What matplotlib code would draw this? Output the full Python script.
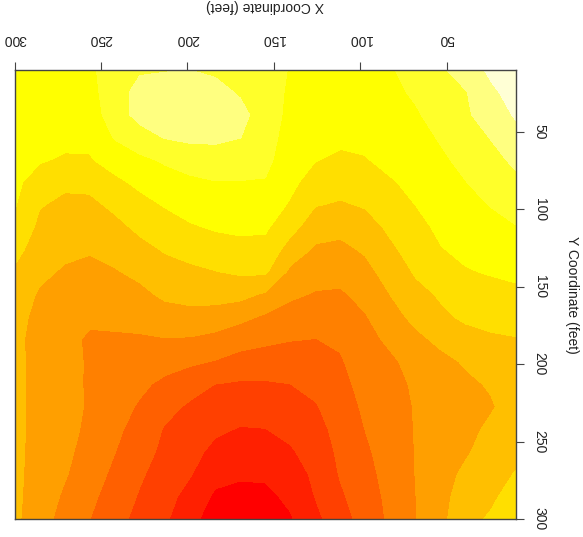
import matplotlib
matplotlib.use('Agg')
import matplotlib.pyplot as plt
import numpy as np

plt.rcParams['font.family'] = ['Liberation Sans', 'DejaVu Sans']

# grid positions in feet: columns run left->right as drawn (300 down to 10),
# rows run top->bottom (10 down to 300)
x_feet = [300, 285.5, 271, 256.5, 242, 227.5, 213, 198.5, 184, 169.5, 155,
          140.5, 126, 111.5, 97, 82.5, 68, 53.5, 39, 24.5, 10]
y_feet = [10, 24.5, 39, 53.5, 68, 82.5, 97, 111.5, 126, 140.5, 155,
          169.5, 184, 198.5, 213, 227.5, 242, 256.5, 271, 285.5, 300]

# surface, one list per column (top -> bottom),
# in colour-band units (0 = red ... 12 = palest yellow)
z_columns = [
    [8.6, 8.51, 8.42, 8.34, 8.25, 8.16, 8.07, 7.9, 7.34, 6.85, 6.5, 6.3, 6.2, 6.2, 6.2, 6.2, 6.2, 6.2, 6.2, 6.2, 6.2],
    [8.7, 8.54, 8.39, 8.23, 8.07, 7.67, 7.07, 6.75, 6.47, 6.18, 5.9, 5.75, 5.7, 5.74, 5.75, 5.75, 5.74, 5.71, 5.65, 5.57, 5.42],
    [8.8, 8.6, 8.4, 8.2, 7.91, 7.19, 6.78, 6.48, 6.18, 5.9, 5.65, 5.4, 5.2, 5.28, 5.32, 5.33, 5.29, 5.21, 5.09, 4.85, 4.63],
    [8.85, 8.65, 8.45, 8.22, 7.92, 7.25, 6.78, 6.43, 6.08, 5.75, 5.43, 5.12, 4.9, 4.9, 4.88, 4.89, 4.81, 4.65, 4.44, 4.22, 4.01],
    [9.4, 9.6, 9.55, 9.07, 8.42, 7.78, 7.2, 6.73, 6.32, 5.92, 5.59, 5.18, 4.9, 4.75, 4.6, 4.4, 4.2, 4.02, 3.8, 3.56, 3.33],
    [9.9, 10.3, 10.3, 9.6, 8.8, 8.22, 7.69, 7.2, 6.71, 6.22, 5.76, 5.31, 4.89, 4.54, 4.19, 3.89, 3.63, 3.38, 3.12, 2.91, 2.71],
    [9.95, 10.45, 10.5, 10.05, 9.13, 8.57, 8.07, 7.56, 7.08, 6.62, 6.17, 5.6, 4.95, 4.34, 3.78, 3.29, 2.92, 2.77, 2.58, 2.37, 2.16],
    [10.0, 10.5, 10.65, 10.2, 9.45, 8.79, 8.36, 7.9, 7.33, 6.79, 6.3, 5.69, 4.91, 4.16, 3.37, 2.86, 2.6, 2.33, 2.07, 1.63, 1.22],
    [9.85, 10.3, 10.55, 10.2, 9.55, 8.96, 8.52, 8.1, 7.56, 6.96, 6.35, 5.59, 4.7, 3.94, 2.99, 2.6, 2.17, 1.74, 1.29, 0.85, 0.65],
    [9.6, 9.9, 10.3, 10.02, 9.5, 8.96, 8.57, 8.19, 7.7, 7.13, 6.3, 5.25, 4.4, 3.63, 2.88, 2.42, 1.94, 1.47, 1.11, 0.75, 0.55],
    [9.35, 9.45, 9.5, 9.4, 9.25, 8.94, 8.55, 8.15, 7.67, 7.15, 5.86, 4.86, 4.2, 3.52, 2.89, 2.46, 1.98, 1.57, 1.16, 0.75, 0.55],
    [8.95, 8.85, 8.75, 8.6, 8.45, 8.25, 7.89, 7.33, 6.59, 5.76, 5.16, 4.61, 4.04, 3.52, 2.99, 2.63, 2.25, 1.89, 1.57, 1.21, 0.9],
    [8.75, 8.65, 8.5, 8.3, 8.04, 7.54, 7.05, 6.44, 5.85, 5.38, 4.92, 4.45, 3.98, 3.63, 3.27, 2.92, 2.64, 2.41, 2.17, 2.03, 1.75],
    [8.6, 8.48, 8.35, 8.18, 7.84, 7.38, 6.9, 6.27, 5.76, 5.3, 4.88, 4.5, 4.15, 3.9, 3.7, 3.5, 3.35, 3.2, 3.08, 2.85, 2.6],
    [8.72, 8.6, 8.45, 8.22, 7.95, 7.52, 7.09, 6.61, 6.13, 5.7, 5.28, 4.94, 4.73, 4.55, 4.35, 4.18, 4.02, 3.85, 3.7, 3.55, 3.4],
    [8.92, 8.8, 8.65, 8.45, 8.25, 7.92, 7.56, 7.19, 6.83, 6.42, 6.02, 5.6, 5.17, 4.85, 4.7, 4.6, 4.52, 4.45, 4.35, 4.25, 4.18],
    [9.35, 9.12, 8.9, 8.7, 8.45, 8.23, 8.01, 7.71, 7.4, 7.1, 6.72, 6.28, 5.74, 5.31, 5.13, 5.06, 5.05, 5.03, 5.02, 4.99, 4.97],
    [9.85, 9.55, 9.35, 9.08, 8.85, 8.63, 8.41, 8.19, 7.95, 7.57, 7.1, 6.83, 6.25, 5.71, 5.43, 5.36, 5.4, 5.47, 5.61, 5.66, 5.72],
    [10.45, 9.95, 9.85, 9.55, 9.25, 8.98, 8.73, 8.47, 8.21, 7.93, 7.53, 7.15, 6.67, 6.11, 5.8, 5.65, 5.7, 5.88, 6.2, 6.5, 6.75],
    [11.2, 10.8, 10.5, 10.04, 9.7, 9.37, 9.04, 8.7, 8.38, 8.07, 7.67, 7.27, 6.87, 6.45, 6.1, 5.9, 6.2, 6.45, 6.65, 6.85, 7.1],
    [11.8, 11.4, 11.1, 10.7, 10.2, 9.78, 9.37, 8.96, 8.58, 8.19, 7.8, 7.37, 6.95, 6.65, 6.5, 6.45, 6.55, 6.75, 7.05, 7.35, 7.6],
]

# heat colours, 12 bands from red (low) to pale yellow (high)
band_colors = ['#FF0000', '#FF2000', '#FF4000', '#FF6000', '#FF8000', '#FF9F00',
               '#FFBF00', '#FFDF00', '#FFFF00', '#FFFF2A', '#FFFF80', '#FFFFD5']
band_levels = np.arange(0, 13)

x_ticks = [50, 100, 150, 200, 250, 300]
y_ticks = [50, 100, 150, 200, 250, 300]

X, Y = np.meshgrid(x_feet, y_feet)
Z = np.array(z_columns).T

fig = plt.figure(figsize=(5.83, 5.37), dpi=100)
ax = fig.add_axes([14.5 / 583, 1 - 519 / 537, (516 - 14.5) / 583, (519 - 70) / 537])
ax.contourf(X, Y, Z, levels=band_levels, colors=band_colors)

ax.set_xlim(300, 10)
ax.set_ylim(300, 10)

ax.xaxis.tick_top()
ax.xaxis.set_label_position('top')
ax.yaxis.tick_right()
ax.yaxis.set_label_position('right')
ax.set_xticks(x_ticks)
ax.set_yticks(y_ticks)

ax.tick_params(axis='both', direction='out', length=6, width=0.8, color='#444444',
               labelsize=10, labelcolor='#222222')
ax.tick_params(axis='x', pad=11, labelrotation=180)
ax.tick_params(axis='y', pad=6, labelrotation=-90)
for lab in ax.get_yticklabels():
    lab.set_va('center')

ax.set_xlabel('X Coordinate (feet)', rotation=180, fontsize=10, color='#222222', labelpad=16)
ax.set_ylabel('Y Coordinate (feet)', rotation=-90, fontsize=10, color='#222222',
              labelpad=18, va='center')

for sp in ax.spines.values():
    sp.set_color('#444444')
    sp.set_linewidth(1.0)

fig.savefig('out.png', dpi=100)
